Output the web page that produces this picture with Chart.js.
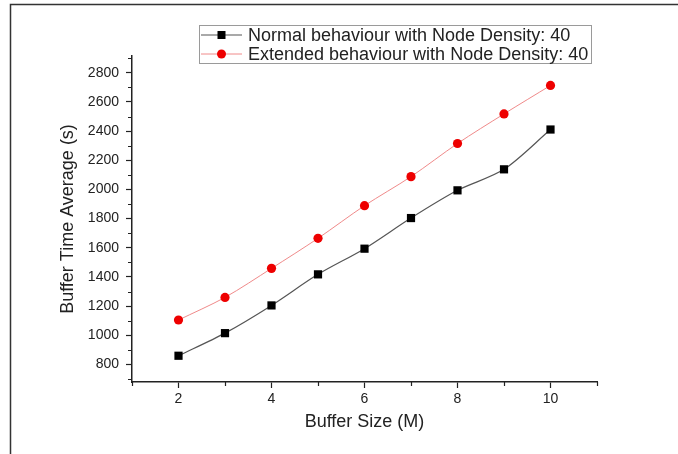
<!DOCTYPE html>
<html>
<head>
<meta charset="utf-8">
<script src="https://cdn.jsdelivr.net/npm/chart.js@4"></script>
<style>
  html, body { margin: 0; padding: 0; background: #fff; overflow: hidden; }
  canvas { display: block; }
</style>
</head>
<body>
<canvas id="c" width="678" height="454"></canvas>
<script>
// ---- data ----
const bufferSizes = [2, 3, 4, 5, 6, 7, 8, 9, 10];
const normalValues = [860, 1015, 1205, 1418, 1594, 1804, 1994, 2138, 2411];
const extendedValues = [1105, 1260, 1459, 1665, 1889, 2088, 2315, 2518, 2713];
const seriesLabels = ['Normal behaviour with Node Density: 40', 'Extended behaviour with Node Density: 40'];
const xTickValues = [2, 4, 6, 8, 10];
const xMinorTicks = [1, 3, 5, 7, 9, 11];
const yTickValues = [800, 1000, 1200, 1400, 1600, 1800, 2000, 2200, 2400, 2600, 2800];
const yMinorTicks = [700, 900, 1100, 1300, 1500, 1700, 1900, 2100, 2300, 2500, 2700, 2900];
const xTitle = 'Buffer Size (M)';
const yTitle = 'Buffer Time Average (s)';

const FONT = '"Liberation Sans", Arial, Helvetica, sans-serif';
const TEXT = '#222';

const framePlugin = {
  id: 'frame',
  beforeDraw(chart) {
    const ctx = chart.ctx;
    ctx.save();
    ctx.fillStyle = '#ffffff';
    ctx.fillRect(0, 0, chart.width, chart.height);
    ctx.strokeStyle = '#333';
    ctx.lineWidth = 1.5;
    ctx.beginPath();
    ctx.moveTo(10.5, chart.height + 2);
    ctx.lineTo(10.5, 4.5);
    ctx.lineTo(chart.width + 2, 4.5);
    ctx.stroke();
    ctx.restore();
  }
};

const minorTicksPlugin = {
  id: 'minorTicks',
  afterDraw(chart) {
    const ctx = chart.ctx;
    const xs = chart.scales.x, ys = chart.scales.y;
    const area = chart.chartArea;
    ctx.save();
    ctx.strokeStyle = '#222';
    ctx.lineWidth = 1.2;
    ctx.beginPath();
    yMinorTicks.forEach(v => {
      const py = Math.round(ys.getPixelForValue(v)) + 0.5;
      ctx.moveTo(area.left - 4, py); ctx.lineTo(area.left, py);
    });
    xMinorTicks.forEach(v => {
      const px = Math.round(xs.getPixelForValue(v)) + 0.5;
      ctx.moveTo(px, area.bottom); ctx.lineTo(px, area.bottom + 4);
    });
    ctx.stroke();
    ctx.restore();
  }
};

const legendPlugin = {
  id: 'boxLegend',
  afterDraw(chart) {
    const ctx = chart.ctx;
    ctx.save();
    ctx.strokeStyle = '#9a9a9a';
    ctx.lineWidth = 1;
    ctx.strokeRect(199.5, 25.5, 392, 38);
    ctx.font = '18px ' + FONT;
    ctx.textBaseline = 'middle';
    ctx.textAlign = 'left';
    const rows = [35, 54];
    chart.data.datasets.forEach((ds, i) => {
      const y = rows[i];
      ctx.strokeStyle = ds.borderColor;
      ctx.lineWidth = ds.borderWidth;
      ctx.beginPath(); ctx.moveTo(201, y); ctx.lineTo(242, y); ctx.stroke();
      ctx.fillStyle = ds.pointBackgroundColor;
      ctx.beginPath();
      if (ds.pointStyle === 'rect') {
        ctx.rect(221.5 - 4, y - 4, 8, 8);
      } else {
        ctx.arc(221.5, y, 4.5, 0, Math.PI * 2);
      }
      ctx.fill();
      ctx.fillStyle = TEXT;
      ctx.fillText(ds.label, 248, y + 1);
    });
    ctx.restore();
  }
};

new Chart(document.getElementById('c'), {
  type: 'line',
  data: {
    datasets: [
      {
        label: seriesLabels[0],
        data: bufferSizes.map((x, i) => ({ x: x, y: normalValues[i] })),
        borderColor: '#555555',
        borderWidth: 1.2,
        pointStyle: 'rect',
        pointRadius: 5.8,
        pointBackgroundColor: '#000000',
        pointBorderColor: '#000000',
        pointBorderWidth: 0,
        tension: 0.3
      },
      {
        label: seriesLabels[1],
        data: bufferSizes.map((x, i) => ({ x: x, y: extendedValues[i] })),
        borderColor: '#f08a8a',
        borderWidth: 1,
        pointStyle: 'circle',
        pointRadius: 4.6,
        pointBackgroundColor: '#ee0000',
        pointBorderColor: '#ee0000',
        pointBorderWidth: 0,
        tension: 0.3
      }
    ]
  },
  options: {
    responsive: false,
    animation: false,
    events: [],
    layout: { padding: { left: 0, top: 56, right: 81, bottom: 0 } },
    plugins: { legend: { display: false }, tooltip: { enabled: false } },
    scales: {
      x: {
        type: 'linear',
        min: 1,
        max: 11,
        afterBuildTicks(scale) { scale.ticks = xTickValues.map(v => ({ value: v })); },
        afterFit(scale) { scale.height = 72; },
        grid: { display: true, drawOnChartArea: false, drawTicks: true, tickLength: 6, tickColor: '#222', tickWidth: 1.2 },
        border: { display: true, color: '#222', width: 1.5 },
        ticks: { color: TEXT, font: { family: FONT, size: 14 }, padding: 3, maxRotation: 0, autoSkip: false, callback: v => String(v) },
        title: { display: true, text: xTitle, color: TEXT, font: { family: FONT, size: 18 }, padding: { top: 0, bottom: 21 } }
      },
      y: {
        type: 'linear',
        min: 680,
        max: 2915,
        afterBuildTicks(scale) { scale.ticks = yTickValues.map(v => ({ value: v })); },
        afterFit(scale) { scale.width = 132; },
        grid: { display: true, drawOnChartArea: false, drawTicks: true, tickLength: 6, tickColor: '#222', tickWidth: 1.2 },
        border: { display: true, color: '#222', width: 1.5 },
        ticks: { color: TEXT, font: { family: FONT, size: 14 }, padding: 7, autoSkip: false, callback: v => String(v) },
        title: { display: true, text: yTitle, color: TEXT, font: { family: FONT, size: 18 }, padding: { top: 57, bottom: 0 } }
      }
    }
  },
  plugins: [framePlugin, minorTicksPlugin, legendPlugin]
});
</script>
</body>
</html>
